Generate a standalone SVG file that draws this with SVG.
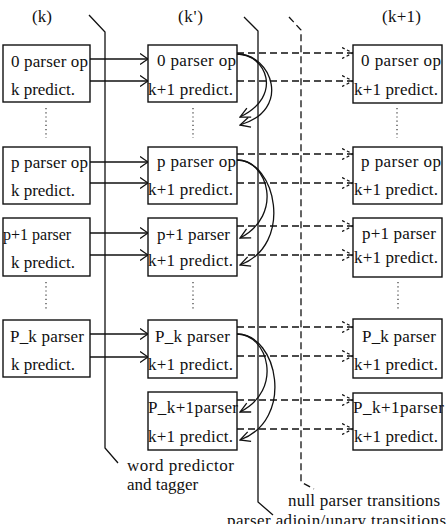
<svg xmlns="http://www.w3.org/2000/svg" width="448" height="524" viewBox="0 0 448 524">
<defs>
<style>
text{font-family:"Liberation Serif","Times New Roman",serif;font-size:17px;fill:#111}
.box{fill:#fff;stroke:#111;stroke-width:1.4}
.sol{fill:none;stroke:#111;stroke-width:1.3}
.dsh{fill:none;stroke:#111;stroke-width:1.3;stroke-dasharray:7,4}
.dot{fill:none;stroke:#444;stroke-width:1.3;stroke-dasharray:1.2,3}
</style>
<marker id="ah" markerUnits="userSpaceOnUse" markerWidth="9" markerHeight="12" viewBox="0 0 9 12" refX="8.5" refY="6" orient="auto">
<path d="M0.5,0.5 L8.5,6 L0.5,11.5" fill="none" stroke="#111" stroke-width="1.3"/>
</marker>
<marker id="dh" markerUnits="userSpaceOnUse" markerWidth="12" markerHeight="12" viewBox="0 0 12 12" refX="11.5" refY="6" orient="auto">
<path d="M0.5,0.5 L11.5,6 L0.5,11.5" fill="none" stroke="#111" stroke-width="1.2" stroke-dasharray="3,2.5"/>
</marker>
<marker id="ch" markerUnits="userSpaceOnUse" markerWidth="12" markerHeight="12" viewBox="0 0 12 12" refX="11" refY="6" orient="auto">
<path d="M1,1 L11,6 L1,11" fill="none" stroke="#111" stroke-width="1.3"/>
</marker>
</defs>

<g id="headers">
<text x="32" y="22" textLength="20">(k)</text>
<text x="178" y="22" textLength="25">(k')</text>
<text x="382" y="22" textLength="39">(k+1)</text>
</g>

<g id="connectors">
<path class="sol" d="M89,15 L105,32 L105,448 L118,463"/>
<path class="sol" d="M244,17 L258,31 L258,502 L273,515"/>
<path class="dsh" d="M289,17 L301,30 L301,482 L314,489"/>
<line class="sol" x1="90" y1="59" x2="148" y2="59" marker-end="url(#ah)"/>
<line class="sol" x1="90" y1="81" x2="148" y2="81" marker-end="url(#ah)"/>
<line class="sol" x1="90" y1="162" x2="148" y2="162" marker-end="url(#ah)"/>
<line class="sol" x1="90" y1="183" x2="148" y2="183" marker-end="url(#ah)"/>
<line class="sol" x1="90" y1="233" x2="148" y2="233" marker-end="url(#ah)"/>
<line class="sol" x1="90" y1="255" x2="148" y2="255" marker-end="url(#ah)"/>
<line class="sol" x1="90" y1="334" x2="148" y2="334" marker-end="url(#ah)"/>
<line class="sol" x1="90" y1="357" x2="148" y2="357" marker-end="url(#ah)"/>
<line class="dsh" x1="237" y1="53" x2="353" y2="53" marker-end="url(#dh)"/>
<line class="dsh" x1="237" y1="81" x2="353" y2="81" marker-end="url(#dh)"/>
<line class="dsh" x1="237" y1="154" x2="353" y2="154" marker-end="url(#dh)"/>
<line class="dsh" x1="237" y1="183" x2="353" y2="183" marker-end="url(#dh)"/>
<line class="dsh" x1="237" y1="226" x2="353" y2="226" marker-end="url(#dh)"/>
<line class="dsh" x1="237" y1="255" x2="353" y2="255" marker-end="url(#dh)"/>
<line class="dsh" x1="237" y1="327" x2="353" y2="327" marker-end="url(#dh)"/>
<line class="dsh" x1="237" y1="356" x2="353" y2="356" marker-end="url(#dh)"/>
<line class="dsh" x1="237" y1="400" x2="353" y2="400" marker-end="url(#dh)"/>
<line class="dsh" x1="237" y1="429" x2="353" y2="429" marker-end="url(#dh)"/>
<path class="sol" d="M237,54 C266,54 284,96 240,117" marker-end="url(#ch)"/>
<path class="sol" d="M237,54 C272,54 292,110 240,125" marker-end="url(#ch)"/>
<path class="sol" d="M237,160 C268,160 284,215 240,238" marker-end="url(#ch)"/>
<path class="sol" d="M237,160 C276,160 294,245 240,265" marker-end="url(#ch)"/>
<path class="sol" d="M237,334 C268,334 284,390 240,412" marker-end="url(#ch)"/>
<path class="sol" d="M237,334 C278,334 295,420 240,440" marker-end="url(#ch)"/>
</g>

<g id="ellipses">
<line class="dot" x1="46" y1="108" x2="46" y2="138"/>
<line class="dot" x1="193" y1="108" x2="193" y2="138"/>
<line class="dot" x1="397" y1="108" x2="397" y2="138"/>
<line class="dot" x1="46" y1="282" x2="46" y2="311"/>
<line class="dot" x1="193" y1="282" x2="193" y2="311"/>
<line class="dot" x1="398" y1="282" x2="398" y2="311"/>
</g>

<g id="k-0">
<rect class="box" x="3" y="45" width="87" height="57"/>
<text x="11" y="67" textLength="77">0 parser op</text>
<text x="11" y="95" textLength="64">k predict.</text>
</g>
<g id="k-p">
<rect class="box" x="3" y="147" width="87" height="57"/>
<text x="11" y="168" textLength="77">p parser op</text>
<text x="11" y="196" textLength="64">k predict.</text>
</g>
<g id="k-p1">
<rect class="box" x="3" y="218" width="87" height="58"/>
<text x="3" y="240" style="font-size:16px">p+1 parser</text>
<text x="11" y="268" textLength="64">k predict.</text>
</g>
<g id="k-Pk">
<rect class="box" x="3" y="320" width="87" height="57"/>
<text x="10" y="342" textLength="74">P_k parser</text>
<text x="11" y="370" textLength="64">k predict.</text>
</g>

<g id="kp-0">
<rect class="box" x="148" y="45" width="89" height="57"/>
<text x="157" y="66" textLength="79">0 parser op</text>
<text x="148" y="95" textLength="85">k+1 predict.</text>
</g>
<g id="kp-p">
<rect class="box" x="148" y="147" width="89" height="57"/>
<text x="157" y="167" textLength="79">p parser op</text>
<text x="148" y="195" textLength="85">k+1 predict.</text>
</g>
<g id="kp-p1">
<rect class="box" x="148" y="218" width="89" height="58"/>
<text x="157" y="240" textLength="73">p+1 parser</text>
<text x="148" y="266" textLength="85">k+1 predict.</text>
</g>
<g id="kp-Pk">
<rect class="box" x="148" y="320" width="89" height="58"/>
<text x="155" y="342" textLength="75">P_k parser</text>
<text x="148" y="370" textLength="85">k+1 predict.</text>
</g>
<g id="kp-Pk1">
<rect class="box" x="148" y="392" width="89" height="58"/>
<text x="148" y="413" textLength="90">P_k+1parser</text>
<text x="148" y="442" textLength="85">k+1 predict.</text>
</g>

<g id="k1-0">
<rect class="box" x="353" y="45" width="89" height="58"/>
<text x="361" y="66" textLength="80">0 parser op</text>
<text x="354" y="95" textLength="84">k+1 predict.</text>
</g>
<g id="k1-p">
<rect class="box" x="353" y="147" width="89" height="57"/>
<text x="361" y="167" textLength="80">p parser op</text>
<text x="354" y="195" textLength="84">k+1 predict.</text>
</g>
<g id="k1-p1">
<rect class="box" x="353" y="218" width="89" height="59"/>
<text x="362" y="239" textLength="74">p+1 parser</text>
<text x="354" y="263" textLength="84">k+1 predict.</text>
</g>
<g id="k1-Pk">
<rect class="box" x="353" y="319" width="89" height="59"/>
<text x="362" y="342" textLength="74">P_k parser</text>
<text x="354" y="370" textLength="84">k+1 predict.</text>
</g>
<g id="k1-Pk1">
<rect class="box" x="353" y="393" width="89" height="57"/>
<text x="353" y="413" textLength="91">P_k+1parser</text>
<text x="354" y="442" textLength="84">k+1 predict.</text>
</g>

<g id="labels">
<text x="127" y="471" textLength="107">word predictor</text>
<text x="127" y="490">and tagger</text>
<text x="288" y="506" textLength="152">null parser transitions</text>
<text x="227" y="526" textLength="219">parser adjoin/unary  transitions</text>
</g>
</svg>
